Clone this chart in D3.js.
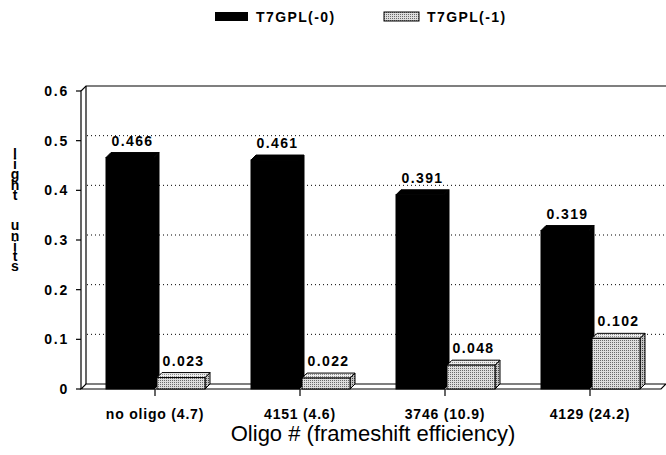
<!DOCTYPE html>
<html>
<head>
<meta charset="utf-8">
<script src="https://cdn.jsdelivr.net/npm/d3@7"></script>
<style>
  body { margin: 0; background: #fff; }
  text { font-family: "Liberation Sans", Arial, sans-serif; fill: #000; }
  .vtitle { writing-mode: vertical-rl; text-orientation: upright; }
</style>
</head>
<body>
<svg id="chart" width="666" height="455"></svg>
<script>
const categories = ["no oligo (4.7)", "4151 (4.6)", "3746 (10.9)", "4129 (24.2)"];
const seriesNames = ["T7GPL(-0)", "T7GPL(-1)"];
const series0 = [0.466, 0.461, 0.391, 0.319];
const series1 = [0.023, 0.022, 0.048, 0.102];
const yTicks = [0, 0.1, 0.2, 0.3, 0.4, 0.5, 0.6];
const yTickLabels = ["0", "0.1", "0.2", "0.3", "0.4", "0.5", "0.6"];
const yTitle = "light\u00a0\u00a0units";
const xTitle = "Oligo # (frameshift efficiency)";

const svg = d3.select("#chart");
const depth = 5; // 3d offset
const plotLeft = 81, plotRight = 661, plotBottom = 389, plotTop = 91;

const y = d3.scaleLinear().domain([0, 0.6]).range([plotBottom, plotTop]);
const x = d3.scaleBand().domain(categories).range([82.5, 662.5]).padding(0);
const x1 = d3.scaleBand().domain([0, 1]).range([-49, 51]);

// patterns for the grey bars
const defs = svg.append("defs");
function dotPattern(id, bg, fg) {
  const p = defs.append("pattern").attr("id", id)
    .attr("width", 2).attr("height", 2).attr("patternUnits", "userSpaceOnUse");
  p.append("rect").attr("width", 2).attr("height", 2).attr("fill", bg);
  p.append("rect").attr("width", 1).attr("height", 1).attr("fill", fg);
}
dotPattern("dots", "#dedede", "#6a6a6a");
dotPattern("dotsTop", "#ececec", "#8a8a8a");
dotPattern("dotsSide", "#c4c4c4", "#444");

// left wall + top edge
const wallTop = y(0.6) - depth;
svg.append("path")
  .attr("d", `M${plotLeft},${plotBottom} L${plotLeft},${wallTop + depth} L${plotLeft + depth},${wallTop} L666,${wallTop}`)
  .attr("fill", "none").attr("stroke", "#000").attr("stroke-width", 1.2);
svg.append("line")
  .attr("x1", plotLeft + depth).attr("x2", plotLeft + depth)
  .attr("y1", wallTop).attr("y2", plotBottom - depth)
  .attr("stroke", "#000").attr("stroke-width", 1.2);

// dotted gridlines on back wall
svg.selectAll(".grid").data(yTicks.filter(d => d > 0 && d < 0.6)).enter()
  .append("line").attr("class", "grid")
  .attr("x1", plotLeft + depth + 1).attr("x2", 666)
  .attr("y1", d => y(d) - depth).attr("y2", d => y(d) - depth)
  .attr("stroke", "#000").attr("stroke-width", 1).attr("stroke-dasharray", "1,3");

// floor
svg.append("polygon")
  .attr("points", `${plotLeft},${plotBottom} ${plotRight},${plotBottom} ${plotRight + depth},${plotBottom - depth} ${plotLeft + depth},${plotBottom - depth}`)
  .attr("fill", "#fff").attr("stroke", "#000").attr("stroke-width", 1.2);

// y axis ticks and labels
svg.selectAll(".ytick").data(yTicks).enter()
  .append("line").attr("class", "ytick")
  .attr("x1", plotLeft - 5).attr("x2", plotLeft)
  .attr("y1", d => y(d)).attr("y2", d => y(d))
  .attr("stroke", "#000").attr("stroke-width", 1.2);
svg.selectAll(".ylab").data(yTicks).enter()
  .append("text").attr("class", "ylab")
  .attr("x", 69).attr("y", d => y(d) + 5)
  .attr("text-anchor", "end")
  .attr("font-size", 14).attr("font-weight", "bold").attr("letter-spacing", 1.8)
  .text((d, i) => yTickLabels[i]);

// x axis ticks
svg.selectAll(".xtick").data(categories).enter()
  .append("line").attr("class", "xtick")
  .attr("x1", d => x(d) + x.bandwidth() / 2).attr("x2", d => x(d) + x.bandwidth() / 2)
  .attr("y1", plotBottom).attr("y2", plotBottom + 7)
  .attr("stroke", "#000").attr("stroke-width", 1.2);

// bars
const barW = x1.bandwidth() - 2;
function drawBar(g, x0, v, kind) {
  const yt = y(v), x2 = x0 + barW;
  const frontFill = kind === 0 ? "#000" : "url(#dots)";
  const topFill = kind === 0 ? "#000" : "url(#dotsTop)";
  const sideFill = kind === 0 ? "#000" : "url(#dotsSide)";
  g.append("polygon")
    .attr("points", `${x2},${plotBottom} ${x2 + depth},${plotBottom - depth} ${x2 + depth},${yt - depth} ${x2},${yt}`)
    .attr("fill", sideFill).attr("stroke", "#000").attr("stroke-width", 1);
  g.append("polygon")
    .attr("points", `${x0},${yt} ${x0 + depth},${yt - depth} ${x2 + depth},${yt - depth} ${x2},${yt}`)
    .attr("fill", topFill).attr("stroke", "#000").attr("stroke-width", 1);
  g.append("rect")
    .attr("x", x0).attr("y", yt).attr("width", barW).attr("height", plotBottom - yt)
    .attr("fill", frontFill).attr("stroke", "#000").attr("stroke-width", 1);
  g.append("text")
    .attr("x", x0 + (barW + depth) / 2).attr("y", yt - depth - 7)
    .attr("text-anchor", "middle")
    .attr("font-size", 14).attr("font-weight", "bold").attr("letter-spacing", 1.4)
    .text(d3.format(".3f")(v));
}

categories.forEach((c, i) => {
  const cx = x(c) + x.bandwidth() / 2;
  const g = svg.append("g");
  drawBar(g, cx + x1(0), series0[i], 0);
  drawBar(g, cx + x1(1) + 1, series1[i], 1);
});

// category labels
svg.selectAll(".xlab").data(categories).enter()
  .append("text").attr("class", "xlab")
  .attr("x", d => x(d) + x.bandwidth() / 2).attr("y", 419)
  .attr("text-anchor", "middle")
  .attr("font-size", 14).attr("font-weight", "bold").attr("letter-spacing", 0.8)
  .text(d => d);

// x title
svg.append("text")
  .attr("x", 373).attr("y", 441)
  .attr("text-anchor", "middle")
  .attr("font-size", 22)
  .text(xTitle);

// y title, stacked letters
svg.append("text").attr("class", "vtitle")
  .attr("x", 15).attr("y", 146)
  .attr("font-size", 14).attr("font-weight", "bold")
  .attr("letter-spacing", -5.8)
  .text(yTitle);

// legend
const legend = svg.append("g");
legend.append("rect").attr("x", 215).attr("y", 12).attr("width", 33).attr("height", 9)
  .attr("fill", "#000");
legend.append("text").attr("x", 256).attr("y", 21.5)
  .attr("font-size", 14).attr("font-weight", "bold").attr("letter-spacing", 1.4)
  .text(seriesNames[0]);
legend.append("rect").attr("x", 384).attr("y", 12).attr("width", 35).attr("height", 9)
  .attr("fill", "url(#dots)").attr("stroke", "#000").attr("stroke-width", 1);
legend.append("text").attr("x", 427).attr("y", 21.5)
  .attr("font-size", 14).attr("font-weight", "bold").attr("letter-spacing", 1.4)
  .text(seriesNames[1]);
</script>
</body>
</html>
